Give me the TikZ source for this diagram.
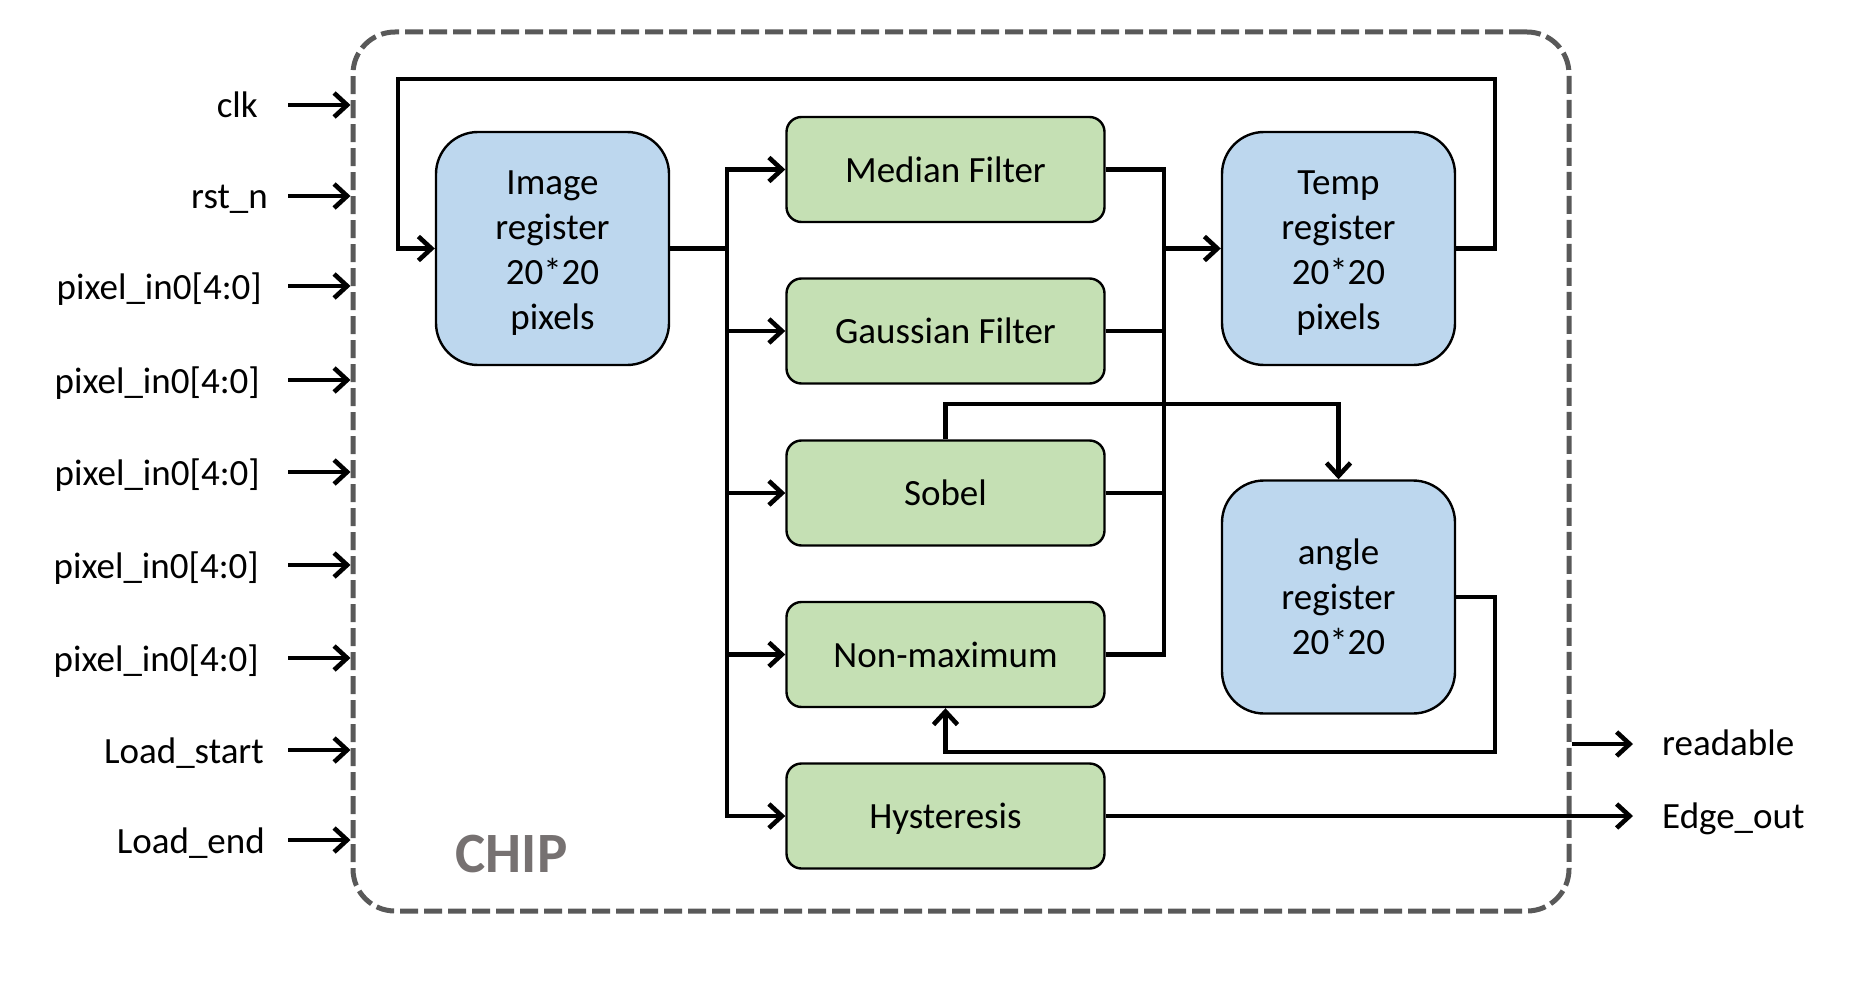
\documentclass[tikz,border=0pt]{standalone}
\usepackage{fontspec}
\setmainfont{Carlito}
\usetikzlibrary{arrows.meta}
\definecolor{regblue}{HTML}{BDD7EE}
\definecolor{filtgreen}{HTML}{C5E0B4}
\definecolor{chipgray}{HTML}{595959}
\definecolor{chiptext}{HTML}{767171}
\newcommand{\mylbl}{\fontsize{37}{45}\selectfont}
\newcommand{\lowerby}[2]{\raisebox{-#1}[\height][\depth]{#2}}
\begin{document}
\begin{tikzpicture}[x=1pt,y=-1pt,
  every node/.style={font=\mylbl},
  regbox/.style={draw, line width=2.4pt, fill=regblue, rounded corners=42pt,
    minimum width=233pt, minimum height=233pt, align=center, inner sep=0pt},
  filtbox/.style={draw, line width=2.4pt, fill=filtgreen, rounded corners=15pt,
    minimum width=318pt, minimum height=105pt, align=center, inner sep=0pt},
  chipbox/.style={draw=chipgray, line width=5pt, dash pattern=on 18pt off 6pt,
    rounded corners=42pt, minimum width=1216pt, minimum height=879pt, inner sep=0pt},
  wire/.style={line width=4.6pt},
  conn/.style={line width=4.6pt, -{Straight Barb[length=13pt,width=24pt]}},
  inlbl/.style={anchor=base east, inner sep=0pt},
  outlbl/.style={anchor=base west, inner sep=0pt}]
\useasboundingbox (0,0) rectangle (1863,987);

% chip boundary
\node[chipbox] (chip) at (961,471.5) {};
\node[anchor=base, inner sep=0pt, text=chiptext, font=\fontsize{57}{60}\selectfont\bfseries] (chiplbl) at (511.5,872) {CHIP};

% blocks
\node[regbox] (img) at (552.5,248.5) {\lowerby{5pt}{\parbox{233pt}{\centering Image\\register\\20*20\\pixels}}};
\node[regbox] (tmp) at (1338.5,248.5) {\lowerby{5pt}{\parbox{233pt}{\centering Temp\\register\\20*20\\pixels}}};
\node[regbox] (ang) at (1338.5,597) {angle\\register\\20*20};
\node[filtbox] (med) at (945.5,169.5) {Median Filter};
\node[filtbox] (gau) at (945.5,331) {Gaussian Filter};
\node[filtbox] (sob) at (945.5,493) {Sobel};
\node[filtbox] (nms) at (945.5,654.5) {Non-maximum};
\node[filtbox] (hys) at (945.5,816) {\lowerby{2.5pt}{Hysteresis}};

% inputs
\node[inlbl] (iclk) at (258,118) {clk};
\node[inlbl] (irst) at (268,209) {rst\_n};
\node[inlbl] (ip1) at (262,299) {pixel\_in0[4:0]};
\node[inlbl] (ip2) at (260,393) {pixel\_in0[4:0]};
\node[inlbl] (ip3) at (260,485) {pixel\_in0[4:0]};
\node[inlbl] (ip4) at (259,578) {pixel\_in0[4:0]};
\node[inlbl] (ip5) at (259,671) {pixel\_in0[4:0]};
\node[inlbl] (ils) at (264,763) {Load\_start};
\node[inlbl] (ile) at (265,853) {Load\_end};
\coordinate (sclk) at (288,105);
\coordinate (srst) at (288,196);
\coordinate (sp1) at (288,286);
\coordinate (sp2) at (288,380);
\coordinate (sp3) at (288,472);
\coordinate (sp4) at (288,565);
\coordinate (sp5) at (288,658);
\coordinate (sls) at (288,750);
\coordinate (sle) at (288,840);
\foreach \s in {sclk,srst,sp1,sp2,sp3,sp4,sp5,sls,sle}
  \draw[conn] (\s) -- (\s -| chip.west);

% outputs
\node[outlbl] (readable) at (1662,755) {readable};
\node[outlbl] (edgeout) at (1662,828) {Edge\_out};
\coordinate (rdend) at (1633,744);
\coordinate (eoend) at (1633,816);
\draw[conn] (rdend -| chip.east) -- (rdend);
\draw[conn] (hys.east) -- (eoend);

% feedback loop temp -> image
\coordinate (lr) at (1495,79);
\coordinate (ll) at (398,79);
\draw[conn] (tmp.east) -| (lr) -- (ll) |- (img.west);

% distribution bus
\coordinate (bus1) at (727,248.5);
\draw[wire] (img.east) -- (bus1);
\foreach \b in {med,gau,sob,nms,hys}
  \draw[conn] (bus1) |- (\b.west);

% collection bus
\coordinate (bus2) at (1164,248.5);
\foreach \b in {med,gau,sob,nms}
  \draw[wire] (\b.east) -| (bus2);
\draw[conn] (bus2) -- (tmp.west);

% sobel -> angle
\coordinate (sa) at (1338.5,404);
\draw[conn] (sob.north) |- (sa) -- (ang.north);

% angle -> non-maximum
\coordinate (ar) at (1495,752);
\draw[conn] (ang.east) -| (ar) -| (nms.south);
\end{tikzpicture}
\end{document}
